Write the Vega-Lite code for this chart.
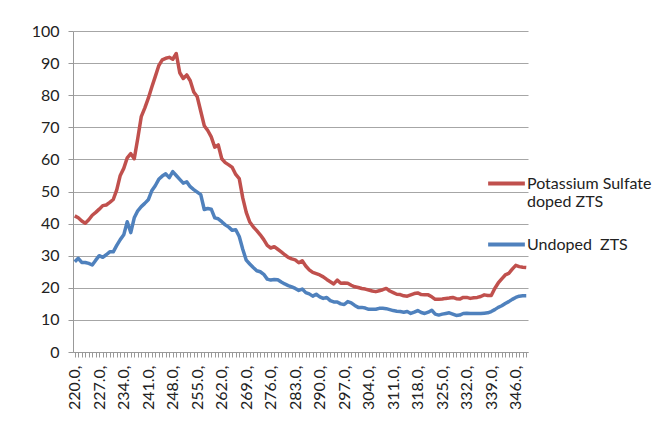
{
  "$schema": "https://vega.github.io/schema/vega-lite/v6.json",
  "autosize": {"type": "none"},
  "width": 455,
  "height": 321,
  "padding": {"left": 73, "top": 31, "right": 139, "bottom": 91},
  "background": "white",
  "config": {"view": {"stroke": null}, "font": "Lato"},
  "data": {"values": [
    {"wl":220,"k":42.4,"u":28.1},{"wl":221,"k":41.8,"u":29.2},{"wl":222,"k":40.8,"u":27.9},{"wl":223,"k":40.1,"u":27.9},{"wl":224,"k":41.2,"u":27.6},
    {"wl":225,"k":42.6,"u":27.1},{"wl":226,"k":43.5,"u":28.6},{"wl":227,"k":44.5,"u":30.0},{"wl":228,"k":45.6,"u":29.5},{"wl":229,"k":45.8,"u":30.3},
    {"wl":230,"k":46.6,"u":31.2},{"wl":231,"k":47.5,"u":31.2},{"wl":232,"k":50.5,"u":33.2},{"wl":233,"k":55.0,"u":35.0},{"wl":234,"k":57.2,"u":36.5},
    {"wl":235,"k":60.5,"u":40.6},{"wl":236,"k":61.8,"u":37.2},{"wl":237,"k":60.2,"u":41.8},{"wl":238,"k":66.5,"u":44.0},{"wl":239,"k":73.3,"u":45.3},
    {"wl":240,"k":76.0,"u":46.3},{"wl":241,"k":79.0,"u":47.4},{"wl":242,"k":82.5,"u":50.2},{"wl":243,"k":85.8,"u":51.8},{"wl":244,"k":89.2,"u":53.8},
    {"wl":245,"k":91.0,"u":54.8},{"wl":246,"k":91.5,"u":55.5},{"wl":247,"k":91.8,"u":54.3},{"wl":248,"k":91.2,"u":56.2},{"wl":249,"k":93.0,"u":55.0},
    {"wl":250,"k":87.0,"u":53.8},{"wl":251,"k":85.2,"u":52.6},{"wl":252,"k":86.3,"u":53.0},{"wl":253,"k":84.5,"u":51.5},{"wl":254,"k":81.0,"u":50.6},
    {"wl":255,"k":79.5,"u":49.8},{"wl":256,"k":75.0,"u":49.0},{"wl":257,"k":70.5,"u":44.4},{"wl":258,"k":69.0,"u":44.7},{"wl":259,"k":67.0,"u":44.5},
    {"wl":260,"k":63.8,"u":41.8},{"wl":261,"k":64.5,"u":41.5},{"wl":262,"k":60.2,"u":40.6},{"wl":263,"k":59.0,"u":39.6},{"wl":264,"k":58.3,"u":38.9},
    {"wl":265,"k":57.5,"u":37.9},{"wl":266,"k":55.3,"u":38.1},{"wl":267,"k":54.0,"u":36.0},{"wl":268,"k":48.0,"u":32.0},{"wl":269,"k":43.5,"u":28.6},
    {"wl":270,"k":40.5,"u":27.4},{"wl":271,"k":39.0,"u":26.3},{"wl":272,"k":37.8,"u":25.3},{"wl":273,"k":36.5,"u":25.0},{"wl":274,"k":35.0,"u":24.2},
    {"wl":275,"k":33.2,"u":22.7},{"wl":276,"k":32.4,"u":22.4},{"wl":277,"k":32.8,"u":22.6},{"wl":278,"k":32.0,"u":22.5},{"wl":279,"k":31.2,"u":21.8},
    {"wl":280,"k":30.3,"u":21.2},{"wl":281,"k":29.5,"u":20.7},{"wl":282,"k":29.0,"u":20.3},{"wl":283,"k":28.7,"u":19.8},{"wl":284,"k":27.8,"u":19.2},
    {"wl":285,"k":28.4,"u":19.6},{"wl":286,"k":26.8,"u":18.5},{"wl":287,"k":25.6,"u":18.1},{"wl":288,"k":24.8,"u":17.4},{"wl":289,"k":24.4,"u":18.0},
    {"wl":290,"k":24.0,"u":17.2},{"wl":291,"k":23.4,"u":16.7},{"wl":292,"k":22.6,"u":17.0},{"wl":293,"k":21.9,"u":16.0},{"wl":294,"k":21.2,"u":15.6},
    {"wl":295,"k":22.4,"u":15.6},{"wl":296,"k":21.4,"u":15.0},{"wl":297,"k":21.5,"u":14.8},{"wl":298,"k":21.4,"u":15.7},{"wl":299,"k":20.8,"u":15.3},
    {"wl":300,"k":20.3,"u":14.5},{"wl":301,"k":20.1,"u":13.9},{"wl":302,"k":19.8,"u":13.9},{"wl":303,"k":19.6,"u":13.7},{"wl":304,"k":19.3,"u":13.3},
    {"wl":305,"k":19.0,"u":13.3},{"wl":306,"k":18.8,"u":13.3},{"wl":307,"k":19.1,"u":13.6},{"wl":308,"k":19.4,"u":13.6},{"wl":309,"k":19.8,"u":13.5},
    {"wl":310,"k":19.0,"u":13.2},{"wl":311,"k":18.5,"u":12.9},{"wl":312,"k":18.0,"u":12.7},{"wl":313,"k":17.9,"u":12.6},{"wl":314,"k":17.5,"u":12.4},
    {"wl":315,"k":17.4,"u":12.6},{"wl":316,"k":17.8,"u":12.0},{"wl":317,"k":18.2,"u":12.4},{"wl":318,"k":18.4,"u":12.9},{"wl":319,"k":17.9,"u":12.3},
    {"wl":320,"k":17.8,"u":12.0},{"wl":321,"k":17.8,"u":12.4},{"wl":322,"k":17.2,"u":13.0},{"wl":323,"k":16.4,"u":11.8},{"wl":324,"k":16.4,"u":11.5},
    {"wl":325,"k":16.5,"u":11.8},{"wl":326,"k":16.7,"u":12.0},{"wl":327,"k":16.8,"u":12.2},{"wl":328,"k":17.0,"u":11.8},{"wl":329,"k":16.6,"u":11.4},
    {"wl":330,"k":16.5,"u":11.5},{"wl":331,"k":17.0,"u":12.0},{"wl":332,"k":17.0,"u":12.1},{"wl":333,"k":16.7,"u":12.0},{"wl":334,"k":16.9,"u":12.0},
    {"wl":335,"k":17.0,"u":12.0},{"wl":336,"k":17.3,"u":12.0},{"wl":337,"k":17.8,"u":12.1},{"wl":338,"k":17.6,"u":12.2},{"wl":339,"k":17.6,"u":12.6},
    {"wl":340,"k":19.8,"u":13.2},{"wl":341,"k":21.5,"u":13.9},{"wl":342,"k":22.8,"u":14.4},{"wl":343,"k":24.0,"u":15.1},{"wl":344,"k":24.5,"u":15.7},
    {"wl":345,"k":25.8,"u":16.4},{"wl":346,"k":27.0,"u":17.0},{"wl":347,"k":26.6,"u":17.4},{"wl":348,"k":26.4,"u":17.5},{"wl":349,"k":26.3,"u":17.5}
  ]},
  "transform": [
    {"fold": ["k", "u"], "as": ["key", "value"]},
    {"lookup": "key", "from": {"data": {"values": [
      {"key": "k", "series": "Potassium Sulfate doped ZTS"},
      {"key": "u", "series": "Undoped\u00a0 ZTS"}
    ]}, "key": "key", "fields": ["series"]}}
  ],
  "mark": {"type": "line", "strokeWidth": 3.5, "strokeJoin": "round"},
  "encoding": {
    "x": {
      "field": "wl", "type": "ordinal",
      "scale": {"type": "point", "padding": 0.5},
      "axis": {
        "title": null,
        "labelAngle": -90,
        "labelExpr": "(datum.value - 220) % 7 == 0 ? format(datum.value, '.1f') + ',' : ''",
        "labelOverlap": false,
        "labelBound": false,
        "labelFontSize": 16,
        "labelColor": "#222",
        "labelPadding": 8,
        "tickSize": 5,
        "tickColor": "#999",
        "domainColor": "#999",
        "grid": false
      }
    },
    "y": {
      "field": "value", "type": "quantitative",
      "scale": {"domain": [0, 100], "nice": false},
      "axis": {
        "title": null,
        "values": [0,10,20,30,40,50,60,70,80,90,100],
        "labelFontSize": 16,
        "labelColor": "#222",
        "labelPadding": 9,
        "tickSize": 5,
        "tickColor": "#999",
        "domainColor": "#999",
        "gridColor": "#A6A6A6",
        "gridWidth": 1.2
      }
    },
    "color": {
      "field": "series", "type": "nominal",
      "scale": {"domain": ["Potassium Sulfate doped ZTS", "Undoped\u00a0 ZTS"], "range": ["#C0504D", "#4F81BD"]},
      "legend": {
        "title": null,
        "orient": "none",
        "legendX": 413,
        "legendY": 132,
        "symbolType": "stroke",
        "symbolSize": 1350,
        "symbolStrokeWidth": 4,
        "labelFontSize": 16,
        "labelColor": "#222",
        "labelOffset": 0,
        "labelExpr": "datum.label == 'Potassium Sulfate doped ZTS' ? ['Potassium Sulfate', 'doped ZTS'] : datum.label",
        "rowPadding": 14
      }
    }
  }
}
